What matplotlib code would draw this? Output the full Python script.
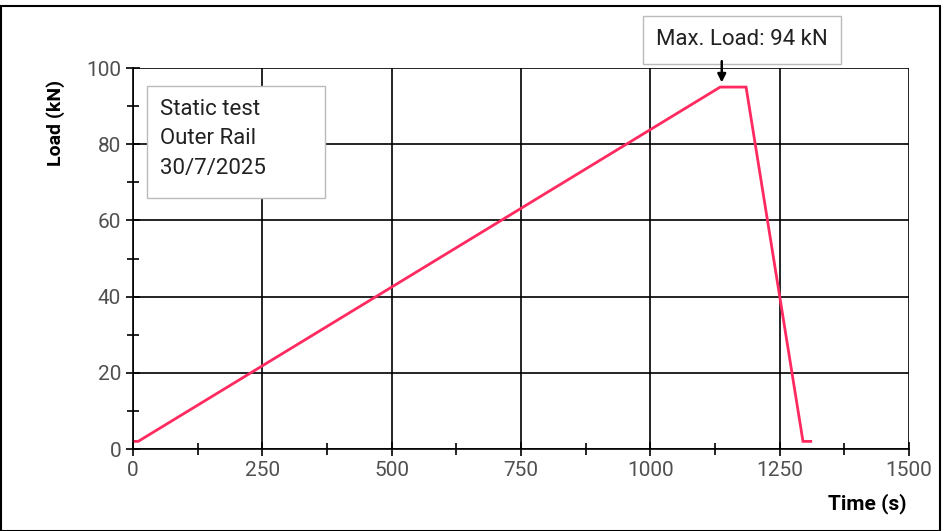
import matplotlib.pyplot as plt
from matplotlib.patches import Rectangle
from matplotlib.ticker import MultipleLocator

time_s = [2, 10, 1135, 1185, 1295, 1310]
load_kn = [2, 2, 95, 95, 2, 2]
x_ticks = [0, 250, 500, 750, 1000, 1250, 1500]
y_ticks = [0, 20, 40, 60, 80, 100]
info_text = "Static test\nOuter Rail\n30/7/2025"
max_label = "Max. Load: 94 kN"

plt.rcParams["font.family"] = ["Roboto", "DejaVu Sans"]

fig = plt.figure(figsize=(9.48, 5.31), dpi=100)
ax = fig.add_axes([0.1403, 0.1544, 0.8186, 0.7175])

ax.plot(time_s, load_kn, color="#ff2a5f", lw=2, solid_joinstyle="miter")

ax.set_xlim(0, 1500)
ax.set_ylim(0, 100)
ax.set_xticks(x_ticks)
ax.set_yticks(y_ticks)
ax.xaxis.set_minor_locator(MultipleLocator(125))
ax.yaxis.set_minor_locator(MultipleLocator(10))
ax.grid(True, which="major", color="black", lw=1.2)
ax.tick_params(which="both", direction="inout", color="black", labelsize=15,
               labelcolor="#505050")
ax.tick_params(which="major", length=10, width=1.2)
ax.tick_params(which="minor", length=8, width=1.2)
for side in ["left", "bottom"]:
    ax.spines[side].set_linewidth(1.2)
for side in ["top", "right"]:
    ax.spines[side].set_visible(False)
ax.set_axisbelow(True)

ax.set_ylabel("Load (kN)", fontsize=14, fontweight="bold")
ax.yaxis.set_label_coords(-0.088, 0.855)
ax.set_xlabel("Time (s)", fontsize=15, fontweight="bold")
ax.xaxis.set_label_coords(0.997, -0.115)
ax.xaxis.label.set_ha("right")

# info box
ax.add_patch(Rectangle((27, 65.9), 344, 29.4, fc="white", ec="#bbbbbb",
                       lw=1, zorder=3))
ax.text(52, 92.0, info_text, fontsize=16, va="top", ha="left",
        linespacing=1.55, color="#222222", zorder=4)

# max load label and arrow
ax.text(1177, 107.4, max_label, fontsize=16, color="#222222",
        va="center", ha="center", clip_on=False,
        bbox=dict(boxstyle="square,pad=0.6", fc="white", ec="#bbbbbb", lw=1))
ax.annotate("", xy=(1138, 96.2), xytext=(1138, 101.8), annotation_clip=False,
            arrowprops=dict(arrowstyle="-|>", color="black", lw=1.8,
                            shrinkA=0, shrinkB=0, mutation_scale=12))

fig.patches.append(Rectangle((1 / 948, 0), 939 / 948, 525 / 531,
                             transform=fig.transFigure, fill=False,
                             ec="black", lw=1.5))

fig.savefig("out.png", dpi=100)
